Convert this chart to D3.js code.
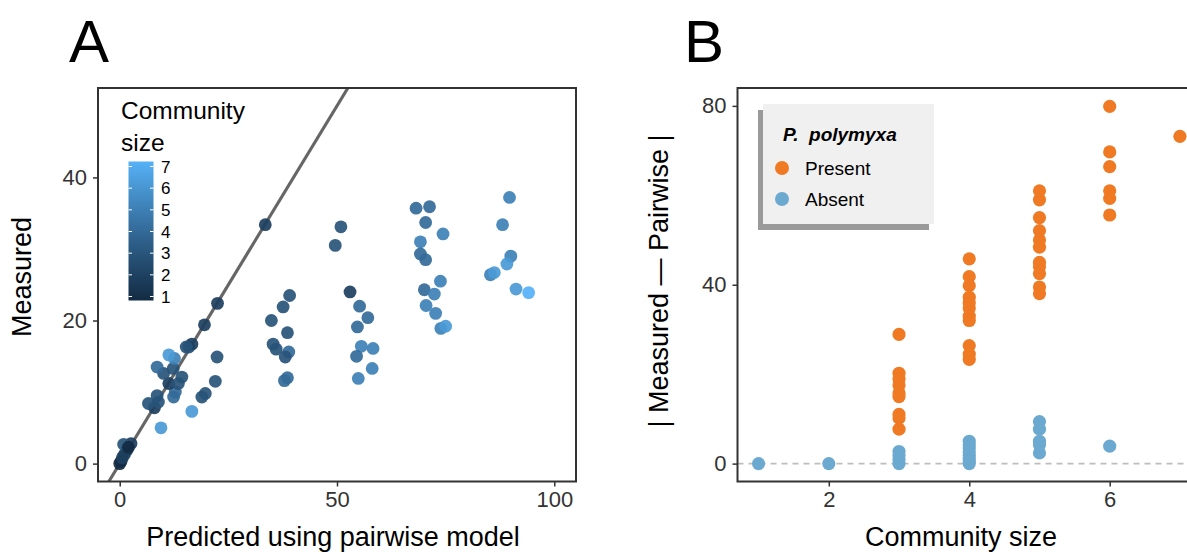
<!DOCTYPE html>
<html lang="en">
<head>
<meta charset="UTF-8">
<title>Pairwise model</title>
<script src="https://cdn.jsdelivr.net/npm/d3@7"></script>
<style>
    body { margin: 0; background: #fff; }
    svg { display: block; font-family: "Liberation Sans", Arial, sans-serif; }
    .tick text { fill: #333; font-size: 22px; }
    .tick line { stroke: #333; stroke-width: 1.5px; }
    .title { fill: #000; font-size: 27px; }
    .panel { font-size: 60px; fill: #000; }
</style>
</head>
<body>
<script>
    // panel A: predicted (pairwise) vs measured, coloured by community size
    var predicted = [0, 0.3, 0.6, 1.1, 1.7, 2.6, 0.9, 2.0,
        8.0, 6.6, 8.9, 8.6, 9.5, 16.6, 12.4, 12.8, 11.3, 13.5, 14.3, 10.1, 12.3, 8.6, 12.6, 11.3,
        15.9, 16.6, 15.3, 18.9, 19.7, 22.0, 22.4, 19.5, 22.5, 33.5,
        39.1, 37.6, 34.9, 38.6, 35.3, 36.0, 38.9, 38.1, 38.6, 37.9,
        50.9, 49.6, 53.0, 55.2, 57.1, 54.7, 55.6, 58.3, 54.5, 58.1, 54.9,
        68.2, 71.3, 70.4, 74.4, 69.2, 69.2, 70.4, 73.8, 70.1, 72.4, 70.5, 72.7, 73.9, 75.0,
        89.7, 88.1, 90.0, 89.1, 85.3, 86.2, 91.2, 94.1];
    var measured = [0, 0.3, 0.8, 1.3, 1.9, 2.8, 2.7, 2.3,
        7.8, 8.4, 8.6, 9.5, 5.0, 7.3, 9.3, 10.0, 11.2, 11.2, 12.1, 12.6, 13.3, 13.5, 14.7, 15.2,
        16.3, 16.7, 16.3, 9.3, 9.8, 11.5, 14.9, 19.4, 22.4, 33.4,
        23.5, 21.9, 20.0, 18.3, 16.7, 16.0, 15.6, 14.9, 12.0, 11.6,
        33.1, 30.5, 24.0, 22.0, 20.4, 19.1, 16.4, 16.1, 15.0, 13.3, 11.9,
        35.7, 35.9, 33.7, 32.1, 31.0, 29.3, 28.5, 25.5, 24.3, 23.7, 22.1, 21.0, 18.9, 19.2,
        37.2, 33.4, 29.0, 27.9, 26.4, 26.7, 24.4, 23.9];
    var commSize = [1, 1, 2, 2, 2, 2, 3, 1,
        2, 3, 3, 3, 6, 6, 4, 4, 2, 3, 3, 3, 3, 4, 5, 6,
        3, 2, 3, 3, 3, 3, 3, 2, 2, 2,
        3, 3, 3, 3, 3, 3, 4, 3, 4, 4,
        3, 3, 2, 4, 4, 4, 5, 5, 4, 5, 5,
        4, 4, 4, 5, 5, 4, 4, 5, 4, 5, 5, 5, 5, 6,
        5, 5, 5, 6, 5, 6, 6, 7];
    var xTicksA = [0, 50, 100];
    var yTicksA = [0, 20, 40];
    var sizeTicks = [1, 2, 3, 4, 5, 6, 7];

    // panel B: |measured - pairwise| by community size, P. polymyxa present / absent
    var presentSize = [3, 3, 3, 3, 3, 3, 3, 3, 3,
        4, 4, 4, 4, 4, 4, 4, 4, 4, 4, 4,
        5, 5, 5, 5, 5, 5, 5, 5, 5, 5, 5,
        6, 6, 6, 6, 6, 6, 7];
    var presentDiff = [28.9, 20.2, 18.9, 17.6, 15.8, 15.0, 11.0, 10.2, 7.7,
        45.8, 41.8, 39.8, 37.2, 36.0, 34.8, 33.0, 32.0, 26.4, 24.5, 23.3,
        61.0, 59.0, 55.0, 52.1, 50.0, 48.4, 45.0, 44.0, 42.5, 39.5, 38.0,
        79.9, 69.7, 66.4, 61.0, 59.3, 55.6, 73.2];
    var absentSize = [1, 2, 3, 3, 3, 3, 4, 4, 4, 4, 4, 4, 4, 4, 5, 5, 5, 5, 5, 6];
    var absentDiff = [0, 0, 2.7, 1.8, 0.9, 0, 5.0, 4.2, 3.5, 2.6, 1.8, 1.0, 0.4, 0,
        9.4, 7.7, 5.0, 4.2, 2.4, 3.9];
    var xTicksB = [2, 4, 6];
    var yTicksB = [0, 40, 80];

    var width = 1187, height = 552;
    var presentColor = "#ef7a23", absentColor = "#6ca9d0";

    var svg = d3.select("body").append("svg")
        .attr("width", width).attr("height", height);

    svg.append("defs").append("clipPath").attr("id", "clipB")
        .append("rect").attr("x", 737).attr("y", 87).attr("width", 460).attr("height", 396);

    var color = d3.scaleLinear().domain([1, 7])
        .range(["#132B43", "#56B1F7"]).interpolate(d3.interpolateLab);

    /* ---------- panel A ---------- */
    var xA = d3.scaleLinear().domain([-5, 105]).range([98, 576]);
    var yA = d3.scaleLinear().domain([-2.5, 52.5]).range([481.5, 88]);

    var gA = svg.append("g");
    gA.append("g").attr("transform", "translate(0,481.5)")
        .call(d3.axisBottom(xA).tickValues(xTicksA).tickSize(5).tickPadding(5))
        .call(function (g) { g.select(".domain").remove(); });
    gA.append("g").attr("transform", "translate(98,0)")
        .call(d3.axisLeft(yA).tickValues(yTicksA).tickSize(5).tickPadding(6))
        .call(function (g) { g.select(".domain").remove(); });

    // y = x reference line
    gA.append("line")
        .attr("x1", xA(-2.5)).attr("y1", yA(-2.5))
        .attr("x2", xA(52.5)).attr("y2", yA(52.5))
        .attr("stroke", "#666").attr("stroke-width", 3.2);

    gA.selectAll("circle.pt")
        .data(predicted.map(function (d, i) { return [d, measured[i], commSize[i]]; }))
        .enter().append("circle")
        .attr("class", "pt")
        .attr("cx", function (d) { return xA(d[0]); })
        .attr("cy", function (d) { return yA(d[1]); })
        .attr("r", 6.4)
        .attr("fill", function (d) { return color(d[2]); })
        .attr("fill-opacity", 0.92);

    gA.append("rect").attr("x", 98).attr("y", 88).attr("width", 478).attr("height", 393.5)
        .attr("fill", "none").attr("stroke", "#333").attr("stroke-width", 2);

    // colour bar legend
    var legA = gA.append("g");
    legA.append("text").attr("x", 121).attr("y", 119).attr("font-size", 24.5).text("Community");
    legA.append("text").attr("x", 121).attr("y", 151).attr("font-size", 24.5).text("size");
    var grad = svg.select("defs").append("linearGradient").attr("id", "cbar")
        .attr("x1", 0).attr("y1", 1).attr("x2", 0).attr("y2", 0);
    sizeTicks.forEach(function (s) {
        grad.append("stop").attr("offset", (s - 1) / 6).attr("stop-color", color(s));
    });
    var cb = d3.scaleLinear().domain([1, 7]).range([296.5, 166.5]);
    legA.append("rect").attr("x", 128.5).attr("y", 161.5).attr("width", 25).attr("height", 139)
        .attr("fill", "url(#cbar)");
    legA.selectAll("line.cl").data(sizeTicks).enter().append("line")
        .attr("x1", 128.5).attr("x2", 132).attr("y1", cb).attr("y2", cb)
        .attr("stroke", "#fff").attr("stroke-width", 1);
    legA.selectAll("line.cr").data(sizeTicks).enter().append("line")
        .attr("x1", 150).attr("x2", 153.5).attr("y1", cb).attr("y2", cb)
        .attr("stroke", "#fff").attr("stroke-width", 1);
    legA.selectAll("text.cbl").data(sizeTicks).enter().append("text")
        .attr("x", 161).attr("y", cb).attr("dy", "0.36em")
        .attr("font-size", 17).text(function (d) { return d; });

    gA.append("text").attr("class", "title")
        .attr("transform", "translate(31,277) rotate(-90)")
        .attr("text-anchor", "middle").text("Measured");
    gA.append("text").attr("class", "title")
        .attr("x", 333).attr("y", 546).attr("text-anchor", "middle")
        .text("Predicted using pairwise model");

    /* ---------- panel B ---------- */
    var xB = d3.scaleLinear().domain([0.7, 7.3]).range([737.5, 1201]);
    var yB = d3.scaleLinear().domain([-4, 84]).range([481.5, 88]);

    var gB = svg.append("g");
    gB.append("g").attr("transform", "translate(0,481.5)")
        .call(d3.axisBottom(xB).tickValues(xTicksB).tickFormat(d3.format("d")).tickSize(5).tickPadding(5))
        .call(function (g) { g.select(".domain").remove(); });
    gB.append("g").attr("transform", "translate(737.5,0)")
        .call(d3.axisLeft(yB).tickValues(yTicksB).tickSize(5).tickPadding(6))
        .call(function (g) { g.select(".domain").remove(); });

    var plotB = gB.append("g").attr("clip-path", "url(#clipB)");
    plotB.append("line")
        .attr("x1", xB(0.7)).attr("x2", xB(7.3)).attr("y1", yB(0)).attr("y2", yB(0))
        .attr("stroke", "#bdbdbd").attr("stroke-width", 1.6).attr("stroke-dasharray", "6,5");

    plotB.selectAll("circle.ab")
        .data(absentSize.map(function (d, i) { return [d, absentDiff[i]]; }))
        .enter().append("circle")
        .attr("cx", function (d) { return xB(d[0]); })
        .attr("cy", function (d) { return yB(d[1]); })
        .attr("r", 6.6).attr("fill", absentColor);
    plotB.selectAll("circle.pr")
        .data(presentSize.map(function (d, i) { return [d, presentDiff[i]]; }))
        .enter().append("circle")
        .attr("cx", function (d) { return xB(d[0]); })
        .attr("cy", function (d) { return yB(d[1]); })
        .attr("r", 6.6).attr("fill", presentColor);

    gB.append("rect").attr("x", 737.5).attr("y", 88).attr("width", 470).attr("height", 393.5)
        .attr("fill", "none").attr("stroke", "#333").attr("stroke-width", 2);

    // legend box with drop shadow
    var legB = gB.append("g");
    legB.append("rect").attr("x", 758).attr("y", 110).attr("width", 171).attr("height", 120).attr("fill", "#9a9a9a");
    legB.append("rect").attr("x", 763).attr("y", 104).attr("width", 171).attr("height", 120).attr("fill", "#f0f0f0");
    legB.append("text").attr("x", 783).attr("y", 141)
        .attr("font-size", 19).attr("font-weight", "bold").attr("font-style", "italic")
        .attr("xml:space", "preserve").text("P.  polymyxa");
    [["Present", presentColor, 168], ["Absent", absentColor, 199]].forEach(function (it) {
        legB.append("circle").attr("cx", 782).attr("cy", it[2]).attr("r", 7).attr("fill", it[1]);
        legB.append("text").attr("x", 805).attr("y", it[2]).attr("dy", "0.35em")
            .attr("font-size", 19).text(it[0]);
    });

    gB.append("text").attr("class", "title")
        .attr("transform", "translate(668,281) rotate(-90)")
        .attr("text-anchor", "middle").text("| Measured \u2014 Pairwise |");
    gB.append("text").attr("class", "title")
        .attr("x", 961).attr("y", 546).attr("text-anchor", "middle")
        .text("Community size");

    svg.append("text").attr("class", "panel").attr("x", 69).attr("y", 62).text("A");
    svg.append("text").attr("class", "panel").attr("x", 684).attr("y", 62).text("B");
</script>
</body>
</html>
